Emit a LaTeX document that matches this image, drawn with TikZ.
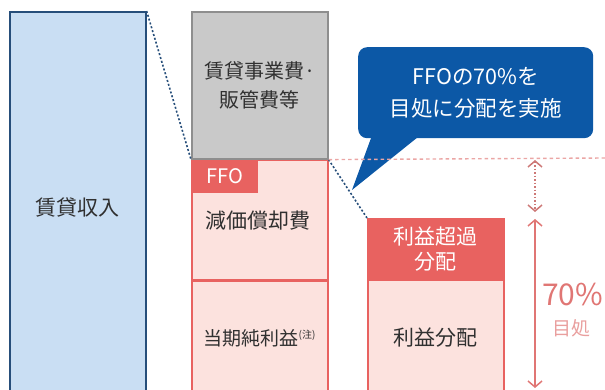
\documentclass[tikz,border=0pt]{standalone}
\usepackage{fontspec}
\setmainfont{Noto Sans CJK JP}
\usepackage{tikz}
\usetikzlibrary{arrows.meta, calc}
\usepackage{xcolor}
\definecolor{rentblue}{RGB}{201,222,243}
\definecolor{rentedge}{RGB}{38,78,122}
\definecolor{costgray}{RGB}{201,201,201}
\definecolor{costedge}{RGB}{142,142,142}
\definecolor{ffored}{RGB}{232,98,96}
\definecolor{ffopink}{RGB}{252,226,222}
\definecolor{calloutblue}{RGB}{12,88,166}
\definecolor{guidered}{RGB}{224,118,116}
\definecolor{textgray}{RGB}{48,48,48}
\tikzset{
    block/.style={draw, line width=1.6pt, minimum width=136pt, inner sep=0pt, align=center,
        font=\fontsize{21}{28}\selectfont, text=textgray},
    income/.style={block, draw=rentedge, fill=rentblue},
    cost/.style={block, draw=costedge, fill=costgray},
    ffo/.style={block, draw=ffored, fill=ffopink},
    header/.style={block, draw=ffored, fill=ffored, text=white, font=\fontsize{21}{25}\selectfont},
    tag/.style={fill=ffored, text=white, inner sep=0pt, minimum width=67pt, minimum height=33pt,
        font=\fontsize{20}{20}\selectfont},
    bubble/.style={fill=calloutblue, rounded corners=9pt, text=white, align=center, inner sep=0pt,
        font=\fontsize{21.5}{32}\selectfont},
    link/.style={draw=rentedge, dash pattern=on 2pt off 2pt, line width=1.6pt},
    guide/.style={draw=guidered!65, dash pattern=on 3.5pt off 3pt, line width=1.4pt},
    span/.style={draw=guidered, line width=1.5pt, {Straight Barb[length=6pt,width=14pt]}-{Straight Barb[length=6pt,width=14pt]}}
}

\begin{document}
\begin{tikzpicture}[x=1pt, y=-1pt]
    \useasboundingbox (0,0) rectangle (605,390);
    \clip (0,0) rectangle (605,390);
    \node[income, minimum height=392pt, anchor=north west] (rent) at (9,11) {賃貸収入};
    \node[cost, minimum height=147pt, anchor=north west, font=\fontsize{20}{29}\selectfont] (expense) at (191,11) {賃貸事業費·\\販管費等};
    \node[ffo, minimum height=119pt, anchor=north west] (deprec) at (expense.south west) {};
    \node[ffo, minimum height=114pt, anchor=north west, font=\fontsize{19}{26}\selectfont] (netinc) at (deprec.south west) {当期純利益\textsuperscript{\fontsize{10}{10}\selectfont (注)}};
    \node[tag, anchor=north west] (ffotag) at (deprec.north west) {FFO};
    \node[font=\fontsize{21}{28}\selectfont, text=textgray] (deprectext) at (258,221) {減価償却費};
    \node[header, minimum height=60pt, anchor=north west] (excess) at (367,218) {利益超過\\分配};
    \node[ffo, minimum height=114pt, anchor=north west] (payout) at (excess.south west) {利益分配};
    \node[bubble, minimum width=235pt, minimum height=91pt, anchor=north west] (callout) at (358,47) {FFOの70\%を\\目処に分配を実施};
    \coordinate (tip) at (352,190);
    \fill[calloutblue] ([xshift=14pt, yshift=3pt]callout.south west) -- ([xshift=62pt, yshift=3pt]callout.south west) -- (tip) -- cycle;
    \draw[link] (rent.north east) -- (expense.south west);
    \draw[link] (deprec.north east) -- (excess.north west);
    \coordinate (guideend) at (605,158);
    \draw[guide] (deprec.north east) -- (guideend);
    \coordinate (ffolevel) at (535,160);
    \coordinate (paylevel) at (535,212);
    \coordinate (payhead) at (535,219);
    \coordinate (payfoot) at (535,388);
    \draw[span, draw=guidered!80!gray, dotted] (ffolevel) -- (paylevel);
    \draw[span] (payhead) -- (payfoot);
    \node[anchor=west, inner sep=0pt, font=\fontsize{30}{30}\selectfont, text=guidered] (ratio) at (542,295) {70\%};
    \node[font=\fontsize{19}{19}\selectfont, text=guidered!70] (target) at (571,328) {目処};
\end{tikzpicture}
\end{document}
